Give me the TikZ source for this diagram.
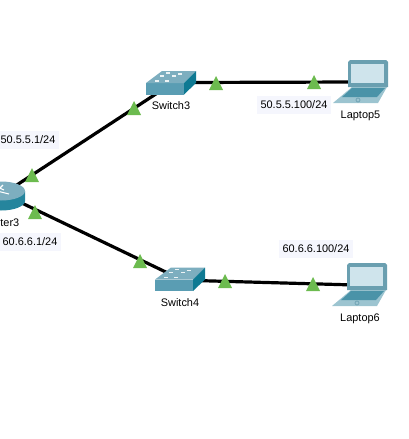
\documentclass[tikz,border=0pt]{standalone}
\usepackage{fontspec}
\setmainfont{Liberation Sans}
\definecolor{linkgreen}{HTML}{6CBB4F}
\definecolor{labelbg}{HTML}{F5F6FD}
\definecolor{ciscoface}{HTML}{5A9DB3}
\definecolor{ciscotop}{HTML}{7DAEBF}
\definecolor{ciscoside}{HTML}{0F7A93}
\definecolor{ciscoscreen}{HTML}{CFE4EC}
\definecolor{ciscobody}{HTML}{6A9FB0}
\definecolor{ciscobase}{HTML}{9CC4D0}
\definecolor{ciscokeys}{HTML}{4A93A8}
\tikzset{
  link/.style={draw=black,line width=2.4pt},
  addr/.style={fill=labelbg,inner xsep=2.5pt,inner ysep=4pt,text=black},
  devname/.style={text=black},
  linkup/.style={fill=linkgreen},
  switchicon/.pic={
    \fill[ciscoface] (-25,0) rectangle (13,11.5);
    \fill[ciscotop] (-25,0) -- (13,0) -- (25,-12) -- (-9,-12) -- cycle;
    \fill[ciscoside] (13,0) -- (25,-12) -- (25,0) -- (13,11.5) -- cycle;
    \foreach \a/\b in {-14/-2,-4/-2,-9/-7,3/-7,9/-9,-3/-10} {
      \fill[white!85!ciscotop] (\a-2,\b-.7) rectangle (\a+2,\b+.7);
    }
  },
  laptopicon/.pic={
    \fill[ciscobase] (-16,12) -- (19,12) -- (10,28) -- (-35,28) -- cycle;
    \fill[ciscokeys] (-16,13) -- (17,13) -- (9,22) -- (-26,22) -- cycle;
    \draw[ciscobody,line width=.5pt] (-10,25) circle (2);
    \fill[ciscobody] (-20,-13) -- (-18,-15) -- (18,-15) -- (20,-13) -- (20,12) -- (-20,12) -- cycle;
    \fill[ciscoscreen] (-17,-11) rectangle (16,8);
  },
  routericon/.pic={
    \fill[ciscoside!70!ciscoface] (-24,0) -- (-24,10) arc[start angle=180,end angle=0,x radius=24,y radius=9.5] -- (24,0) -- cycle;
    \fill[ciscotop] (0,0) ellipse [x radius=24,y radius=9.5];
    \draw[white,line width=.8pt] (-8,-1) -- (8,3) (-6,-5) -- (3,-1) (2,-6) -- (-6,2);
  },
}

\begin{document}
\begin{tikzpicture}[x=0.75pt,y=-0.75pt,font=\fontsize{8.2}{10}\selectfont]
  \useasboundingbox (0,0) rectangle (409,439);
  \clip (0,0) rectangle (409,439);

  \coordinate (router3) at (3,194);
  \coordinate (switch3) at (165,88);
  \coordinate (switch3out) at (190,82.5);
  \coordinate (switch4) at (172,275);
  \coordinate (switch4out) at (195,280.5);
  \coordinate (laptop5) at (368,75);
  \coordinate (laptop5in) at (355,82);
  \coordinate (laptop6) at (367,278);
  \coordinate (laptop6in) at (355,285);

  \draw[link] (router3) -- (switch3);
  \draw[link] (router3) -- (switch4);
  \draw[link] (switch3out) -- (laptop5in);
  \draw[link] (switch4out) -- (laptop6in);

  \pic at (1,191) {routericon};
  \pic at (171,83) {switchicon};
  \pic at (180,279.5) {switchicon};
  \pic at (laptop5) {laptopicon};
  \pic at (laptop6) {laptopicon};

  % link lights
  \foreach \x/\y in {32/182,35/219,134/115,216/90,314/89,140/268,225/288,313/291} {
    \fill[linkup] (\x,\y) -- ++(7,0) -- ++(-7,-14) -- ++(-7,14) -- cycle;
  }

  \node[devname,anchor=east] (router3name) at (24,223) {ter3};
  \node[devname] (switch3name) at (171,106) {Switch3};
  \node[devname] (switch4name) at (180,303) {Switch4};
  \node[devname] (laptop5name) at (360.5,116) {Laptop5};
  \node[devname] (laptop6name) at (360,319) {Laptop6};

  \node[addr] (router3up) at (28,140) {50.5.5.1/24};
  \node[addr] (router3down) at (30,242) {60.6.6.1/24};
  \node[addr] (laptop5addr) at (294,105) {50.5.5.100/24};
  \node[addr] (laptop6addr) at (316,249) {60.6.6.100/24};
\end{tikzpicture}
\end{document}
